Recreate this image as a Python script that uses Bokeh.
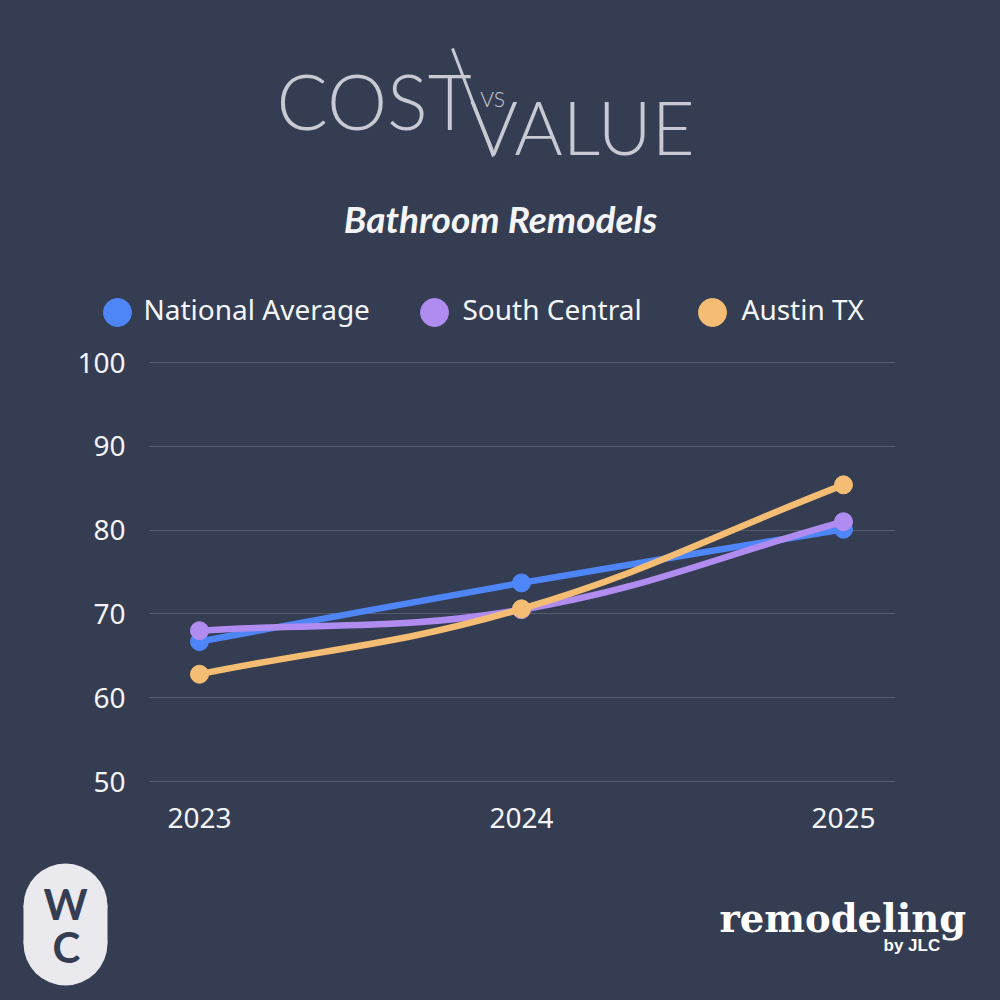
from bokeh.plotting import figure
from bokeh.layouts import column
from bokeh.models import FixedTicker, Range1d, ColumnDataSource, GlobalInlineStyleSheet
from bokeh.core.properties import value
from bokeh.embed import file_html
from bokeh.resources import INLINE

# ---------------- data ----------------
years = [2023, 2024, 2025]
national_average = [66.7, 73.7, 80.1]
south_central = [68.0, 70.5, 81.0]
austin_tx = [62.8, 70.6, 85.4]
series_names = ["National Average", "South Central", "Austin TX"]
series_values = [national_average, south_central, austin_tx]
series_colors = ["#4f86f7", "#b08cf0", "#f4bd73"]
y_ticks = [50, 60, 70, 80, 90, 100]
x_ticks = [2023, 2024, 2025]
title_text = "Bathroom Remodels"
logo_words = ["COST", "VS", "VALUE"]
footer_texts = ["W", "C", "remodeling", "by JLC"]

# ---------------- style / layout ----------------
BG = "#343d52"
GRID = "#535c70"
TXT = "#f4f5f8"
LOGO = "#c8c9d2"
PILL = "#e9e9ee"
W = 984                     # figure width
BASE_SHIFT = 0.4            # alphabetic-anchor correction (fraction of font size)


def style(fig):
    fig.background_fill_color = BG
    fig.border_fill_color = BG
    fig.outline_line_color = None
    try:
        fig.frame_align = False
    except Exception:
        pass


def base(ref_baseline, size):
    """pixel y for an alphabetic anchor so that the visual baseline lands on ref_baseline"""
    return ref_baseline - BASE_SHIFT * size


# ---------- header ----------
H_TOP, H_BOT = 0, 340
hdr = figure(width=W, height=H_BOT - H_TOP, x_range=Range1d(0, W), y_range=Range1d(0, H_BOT - H_TOP),
             x_axis_type=None, y_axis_type=None, min_border=0,
             output_backend="svg", toolbar_location=None)
style(hdr)
hdr.xgrid.visible = False
hdr.ygrid.visible = False
hy = lambda ry: H_BOT - ry

hdr.text(x=[276], y=[hy(base(130, 76))], text=[logo_words[0]], text_font=value("Lato Light"),
         text_font_size="76px", text_color=LOGO, text_align="left", text_baseline="alphabetic")
hdr.text(x=[469], y=[hy(base(156, 74))], text=[logo_words[2]], text_font=value("Lato Light"),
         text_font_size="74px", text_color=LOGO, text_align="left", text_baseline="alphabetic")
hdr.text(x=[492], y=[hy(98)], text=[logo_words[1]], text_font=value("Lato Light"),
         text_font_size="21px", text_color=LOGO, text_align="center", text_baseline="middle")
hdr.segment(x0=[452], y0=[hy(48)], x1=[493], y1=[hy(156)], line_color=LOGO, line_width=3)

hdr.text(x=[500], y=[hy(base(233, 37))], text=[title_text], text_font=value("Lato"),
         text_font_style="bold italic", text_font_size="37px", text_color=TXT,
         text_align="center", text_baseline="alphabetic")

leg_dot_x = [117, 434, 712]
leg_txt_x = [143, 462, 741]
hdr.scatter(x=leg_dot_x, y=[hy(312)] * 3, size=28,
            fill_color=series_colors, line_color=series_colors)
hdr.text(x=leg_txt_x, y=[hy(base(320, 28))] * 3, text=series_names,
         text_font=value("Noto Sans"), text_font_size="28px", text_color=TXT,
         text_align="left", text_baseline="alphabetic")

# ---------- chart ----------
C_TOP, C_BOT = 340, 848
FR_L, FR_R, FR_T, FR_B = 148, 895, 356, 787
PX_X0, PX_X2 = 199, 843          # pixel x of first / last category
PX_Y100, PX_Y50 = 362, 781       # pixel y of 100 / 50
sx = (PX_X2 - PX_X0) / (years[-1] - years[0])
sy = (PX_Y50 - PX_Y100) / (y_ticks[-1] - y_ticks[0])
x_start = years[0] - (PX_X0 - FR_L) / sx
x_end = years[-1] + (FR_R - PX_X2) / sx
y_start = y_ticks[0] - (FR_B - PX_Y50) / sy
y_end = y_ticks[-1] + (PX_Y100 - FR_T) / sy

chart = figure(width=W, height=C_BOT - C_TOP,
               x_range=Range1d(x_start, x_end), y_range=Range1d(y_start, y_end),
               min_border_left=FR_L, min_border_right=W - FR_R,
               min_border_top=FR_T - C_TOP, min_border_bottom=C_BOT - FR_B,
               output_backend="svg", toolbar_location=None)
style(chart)
chart.xgrid.visible = False
chart.ygrid.grid_line_color = GRID
chart.ygrid.grid_line_width = 1
chart.yaxis.ticker = FixedTicker(ticks=y_ticks)
chart.xaxis.ticker = FixedTicker(ticks=x_ticks)
for ax in (chart.xaxis, chart.yaxis):
    ax.axis_line_color = None
    ax.major_tick_line_color = None
    ax.minor_tick_line_color = None
    ax.major_label_text_color = TXT
    ax.major_label_text_font = "Noto Sans"
    ax.major_label_text_font_size = "28px"
chart.yaxis.major_label_standoff = 17
chart.xaxis.major_label_standoff = 14


def spline_controls(xv, yv, tension=0.4):
    """Chart.js-style spline control points, computed in pixel space."""
    px = [x * sx for x in xv]
    py = [y * sy for y in yv]
    n = len(px)
    prev_cp, next_cp = [], []
    for i in range(n):
        a = max(i - 1, 0)
        c = min(i + 1, n - 1)
        d01 = ((px[i] - px[a]) ** 2 + (py[i] - py[a]) ** 2) ** 0.5
        d12 = ((px[c] - px[i]) ** 2 + (py[c] - py[i]) ** 2) ** 0.5
        tot = d01 + d12
        s01 = d01 / tot if tot else 0
        s12 = d12 / tot if tot else 0
        fa, fb = tension * s01, tension * s12
        prev_cp.append(((px[i] - fa * (px[c] - px[a])) / sx, (py[i] - fa * (py[c] - py[a])) / sy))
        next_cp.append(((px[i] + fb * (px[c] - px[a])) / sx, (py[i] + fb * (py[c] - py[a])) / sy))
    return dict(
        x0=xv[:-1], y0=yv[:-1], x1=xv[1:], y1=yv[1:],
        cx0=[p[0] for p in next_cp[:-1]], cy0=[p[1] for p in next_cp[:-1]],
        cx1=[p[0] for p in prev_cp[1:]], cy1=[p[1] for p in prev_cp[1:]],
    )


for name, vals, col in zip(series_names, series_values, series_colors):
    src = ColumnDataSource(spline_controls(years, vals))
    chart.bezier(x0="x0", y0="y0", x1="x1", y1="y1", cx0="cx0", cy0="cy0", cx1="cx1", cy1="cy1",
                 source=src, line_color=col, line_width=6.5, line_cap="round")
    chart.scatter(x=years, y=vals, size=18, fill_color=col, line_color=col)

# ---------- footer ----------
F_TOP, F_BOT = 848, 992
ftr = figure(width=W, height=F_BOT - F_TOP, x_range=Range1d(0, W), y_range=Range1d(0, F_BOT - F_TOP),
             x_axis_type=None, y_axis_type=None, min_border=0,
             output_backend="svg", toolbar_location=None)
style(ftr)
ftr.xgrid.visible = False
ftr.ygrid.visible = False
fy = lambda ry: F_BOT - ry

ftr.quad(left=[23], right=[107], top=[fy(905)], bottom=[fy(943)],
         fill_color=PILL, line_color=None)
ftr.circle(x=[65, 65], y=[fy(905), fy(943)], radius=42, fill_color=PILL, line_color=None)
ftr.text(x=[65, 66], y=[fy(base(920, 42)), fy(base(963, 42))], text=footer_texts[:2],
         text_font=value("Lato"), text_font_style="bold", text_font_size="42px", text_color=BG,
         text_align="center", text_baseline="alphabetic")
ftr.text(x=[719], y=[fy(base(933, 38))], text=[footer_texts[2]], text_font=value("DejaVu Serif"),
         text_font_style="bold", text_font_size="38.5px", text_color="#ffffff",
         text_align="left", text_baseline="alphabetic")
ftr.text(x=[883], y=[fy(base(952, 17))], text=[footer_texts[3]], text_font=value("Liberation Sans"),
         text_font_style="bold", text_font_size="17px", text_color="#ffffff",
         text_align="left", text_baseline="alphabetic")

page_css = GlobalInlineStyleSheet(css="html, body { background: %s; }" % BG)
layout = column(hdr, chart, ftr, spacing=0, stylesheets=[page_css])
open("out.html", "w").write(file_html(layout, INLINE))
